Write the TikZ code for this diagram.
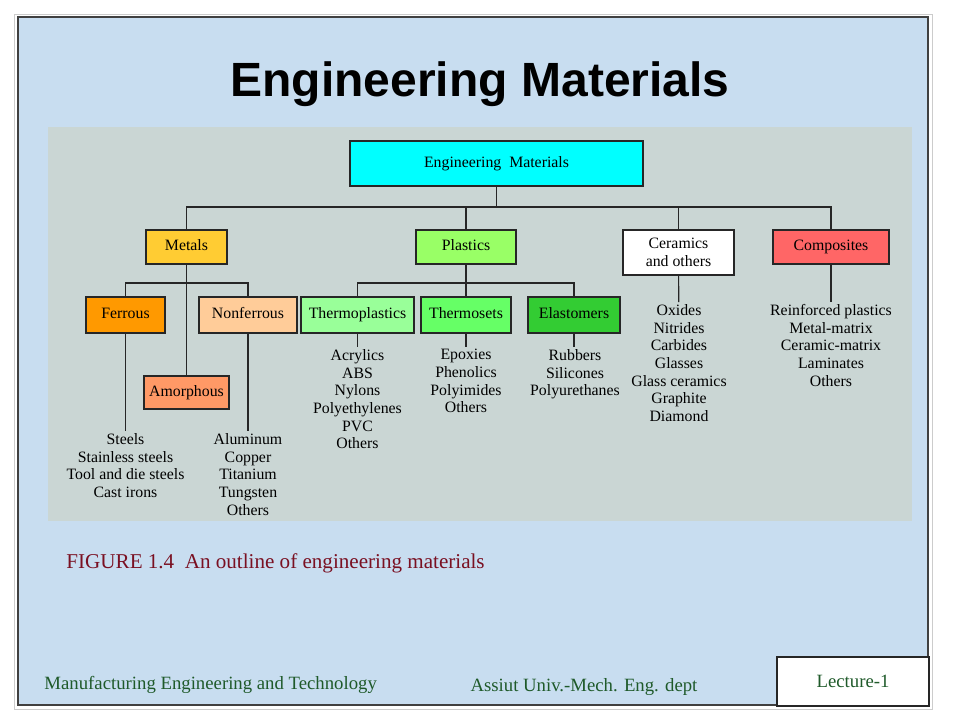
\documentclass[tikz,border=0pt]{standalone}
\usepackage{fontspec}
\setmainfont{Liberation Serif}
\setsansfont{Liberation Sans}
\usetikzlibrary{positioning}
\definecolor{emslide}{HTML}{C8DDF0}
\definecolor{empanel}{HTML}{CAD6D4}
\definecolor{emcyan}{HTML}{00FFFF}
\definecolor{emgold}{HTML}{FFCC33}
\definecolor{emlime}{HTML}{99FF66}
\definecolor{emred}{HTML}{FF6666}
\definecolor{emorange}{HTML}{FF9900}
\definecolor{empeach}{HTML}{FFCC99}
\definecolor{emsalmon}{HTML}{FF9966}
\definecolor{emmint}{HTML}{99FF99}
\definecolor{emgreen}{HTML}{66FF66}
\definecolor{emdkgreen}{HTML}{33CC33}
\definecolor{emcaption}{HTML}{7A1022}
\definecolor{emfooter}{HTML}{1F5A2A}

\begin{document}
\begin{tikzpicture}[x=0.03cm, y=-0.03cm, line width=1pt,
    matbox/.style={rectangle, draw=black!85, line width=1pt, align=center, font=\fontsize{13.5}{15}\selectfont},
    matone/.style={matbox, text height=0.7em, text depth=0.04em},
    matlist/.style={align=center, anchor=north, inner sep=1.5pt, font=\fontsize{13.5}{15.1}\selectfont}]
      \useasboundingbox (0,0) rectangle (960,720);
      \fill[white] (0,0) rectangle (960,720);

      % Slide
      \draw[gray!40, line width=0.5pt] (14,14) rectangle (932,709);
      \fill[emslide] (18,17) rectangle (928,705);
      \draw[black!75, line width=2.5pt] (18,17) rectangle (928,705);
      \node[font=\sffamily\bfseries\fontsize{41}{41}\selectfont] (title) at (480,84) {Engineering Materials};
      \fill[empanel] (48,127) rectangle (912,521);

      % Root
      \node[matone, fill=emcyan, minimum width=8.79cm, minimum height=1.35cm] (root) at (496.5,163.5) {Engineering\ \ Materials};

      % Main groups
      \node[matone, fill=emgold, minimum width=2.43cm, minimum height=1.02cm] (metals) at (186.5,247) {Metals};
      \node[matone, fill=emlime, minimum width=3.0cm, minimum height=1.02cm] (plastics) at (466,247) {Plastics};
      \node[matbox, fill=white, minimum width=3.33cm, minimum height=1.35cm] (ceramics) at (678.5,252.5) {Ceramics\\and others};
      \node[matone, fill=emred, minimum width=3.48cm, minimum height=1.02cm] (composites) at (831,247) {Composites};

      % Metals
      \node[matone, fill=emorange, minimum width=2.37cm, minimum height=1.08cm] (ferrous) at (125.5,315) {Ferrous};
      \node[matone, fill=empeach, minimum width=2.94cm, minimum height=1.08cm] (nonferrous) at (248,315) {Nonferrous};
      \node[matone, fill=emsalmon, minimum width=2.55cm, minimum height=0.99cm] (amorphous) at (186.5,392.5) {Amorphous};

      % Plastics
      \node[matone, fill=emmint, minimum width=3.39cm, minimum height=1.08cm] (thermoplastics) at (357.5,315) {Thermoplastics};
      \node[matone, fill=emgreen, minimum width=2.7cm, minimum height=1.08cm] (thermosets) at (466,315) {Thermosets};
      \node[matone, fill=emdkgreen, minimum width=2.76cm, minimum height=1.08cm] (elastomers) at (574,315) {Elastomers};

      % Lists
      \node[matlist] (ferrouslist) at (125.5,431) {Steels\\Stainless steels\\Tool and die steels\\Cast irons};
      \node[matlist] (nonferrouslist) at (248,431) {Aluminum\\Copper\\Titanium\\Tungsten\\Others};
      \node[matlist] (thermoplist) at (357.5,347) {Acrylics\\ABS\\Nylons\\Polyethylenes\\PVC\\Others};
      \node[matlist] (thermosetlist) at (466,347) {Epoxies\\Phenolics\\Polyimides\\Others};
      \node[matlist] (elastlist) at (575,347) {Rubbers\\Silicones\\Polyurethanes};
      \node[matlist] (ceramlist) at (679,302) {Oxides\\Nitrides\\Carbides\\Glasses\\Glass ceramics\\Graphite\\Diamond};
      \node[matlist] (complist) at (831,302) {Reinforced plastics\\Metal-matrix\\Ceramic-matrix\\Laminates\\Others};

      % Bus points
      \coordinate (rootbus) at (496.5,207);
      \coordinate (metbus) at (186.5,283);
      \coordinate (plasbus) at (466,283);

      % Lines
      \draw[black!85] (root) -- (rootbus);
      \draw[black!85] (rootbus) -| (metals.north);
      \draw[black!85] (rootbus) -| (plastics.north);
      \draw[black!85] (rootbus) -| (ceramics.north);
      \draw[black!85] (rootbus) -| (composites.north);
      \draw[black!85] (metals) -- (amorphous);
      \draw[black!85] (metbus) -| (ferrous.north);
      \draw[black!85] (metbus) -| (nonferrous.north);
      \draw[black!85] (plastics) -- (thermosets);
      \draw[black!85] (plasbus) -| (thermoplastics.north);
      \draw[black!85] (plasbus) -| (elastomers.north);
      \draw[black!85] (ferrous) -- (ferrouslist);
      \draw[black!85] (nonferrous) -- (nonferrouslist);
      \draw[black!85] (thermoplastics) -- (thermoplist);
      \draw[black!85] (thermosets) -- (thermosetlist);
      \draw[black!85] (elastomers.south) -- (elastlist.north -| elastomers.south);
      \draw[black!85] (ceramics) -- (ceramlist);
      \draw[black!85] (composites) -- (complist);

      % Caption and footer
      \node[anchor=west, text=emcaption, font=\fontsize{18}{20}\selectfont] (caption) at (62,563) {FIGURE 1.4\ \ An outline of engineering materials};
      \node[anchor=west, text=emfooter, font=\fontsize{16}{18}\selectfont] (course) at (40,685) {Manufacturing Engineering and Technology};
      \node[text=emfooter, font=\fontsize{16}{18}\selectfont] (dept) at (584,687) {Assiut Univ.-Mech. Eng. dept};
      \node[rectangle, draw=black!85, line width=1.5pt, fill=white, text=emfooter, minimum width=4.56cm, minimum height=1.47cm, font=\fontsize{16}{18}\selectfont] (lecture) at (853,681.5) {Lecture-1};
    \end{tikzpicture}
\end{document}
